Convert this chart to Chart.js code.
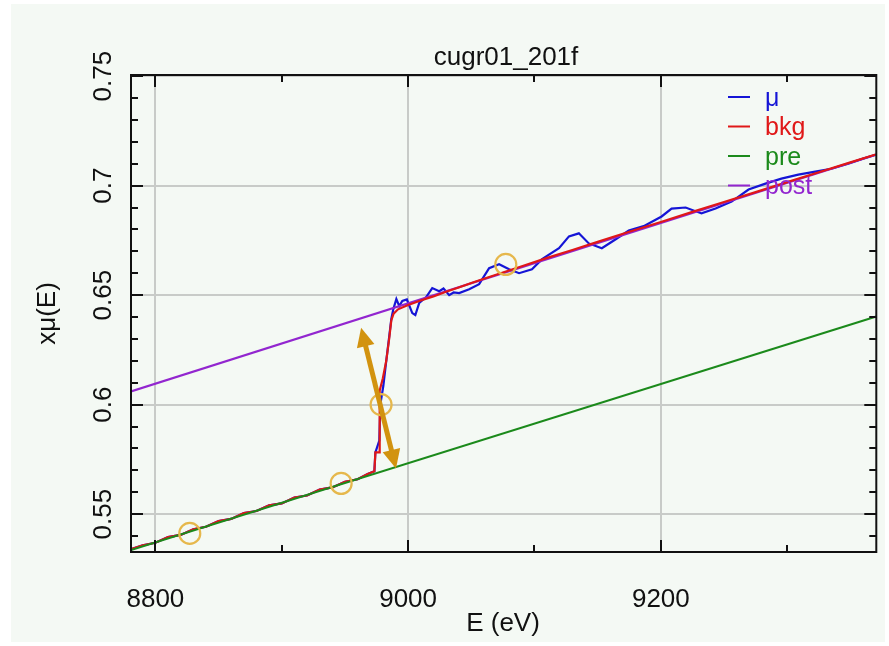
<!DOCTYPE html>
<html>
<head>
<meta charset="utf-8">
<title>cugr01_201f</title>
<script src="https://cdn.jsdelivr.net/npm/chart.js@4.4.1/dist/chart.umd.min.js"></script>
<style>
  html, body { margin: 0; padding: 0; background: #ffffff; }
  #wrap { width: 889px; height: 646px; }
</style>
</head>
<body>
<div id="wrap"><canvas id="xafs" width="889" height="646"></canvas></div>
<script>
// ================= DATA =================
const chartTitle = "cugr01_201f";
const xTitle = "E (eV)";
const yTitle = "xμ(E)";

// axis range and ticks
const xRange = [8780.7, 9370.5];
const yRange = [0.5327, 0.7505];
const xMajor = [8800, 9000, 9200];
const xMinor = [8900, 9100, 9300];
const yMajor = [0.55, 0.6, 0.65, 0.7, 0.75];
const yMinor = [0.54, 0.56, 0.57, 0.58, 0.59, 0.61, 0.62, 0.63, 0.64, 0.66, 0.67, 0.68, 0.69, 0.71, 0.72, 0.73, 0.74];

// measured mu(E)
const muE = [8781, 8790, 8800, 8810, 8820, 8830, 8840, 8850, 8860, 8870, 8880, 8890, 8900, 8910, 8920, 8930, 8940, 8950, 8960, 8968,
  8973.3, 8974.1, 8977.2, 8978, 8980.4, 8982.7, 8985.1, 8986.7, 8988.3, 8990.7, 8993, 8995.4, 8999, 9003.3, 9005.7, 9008.8,
  9014.3, 9019.1, 9024.6, 9028, 9032.5, 9036, 9040.4, 9048.3, 9056.2, 9064.1, 9072, 9079.9, 9087.8, 9098, 9106, 9119.4, 9127.3, 9135.1,
  9143, 9153.3, 9164.3, 9174.6, 9186.4, 9200.6, 9208.5, 9219.6, 9232.2, 9243.3, 9256, 9269.4, 9282.8, 9295.4, 9308.8, 9322.2,
  9334.9, 9348.3, 9360.1, 9369.6];
const muVal = [0.5340, 0.5358, 0.5369, 0.5395, 0.5405, 0.5431, 0.5442, 0.5468, 0.5478, 0.5505, 0.5514, 0.5540, 0.5549, 0.5576, 0.5585, 0.5612, 0.5622, 0.5648, 0.5659, 0.5683,
  0.5696, 0.5782, 0.5836, 0.6000, 0.6086, 0.6200, 0.6314, 0.6391, 0.6436, 0.6482, 0.6450, 0.6473, 0.6480, 0.6418, 0.6409, 0.6464,
  0.6491, 0.6532, 0.6518, 0.6530, 0.6500, 0.6512, 0.6509, 0.6527, 0.6550, 0.6623, 0.6641, 0.6618, 0.6600, 0.6618, 0.6664, 0.6714, 0.6768, 0.6782,
  0.6736, 0.6714, 0.6755, 0.6795, 0.6815, 0.6859, 0.6895, 0.6900, 0.6873, 0.6895, 0.6927, 0.6982, 0.7009, 0.7032, 0.7050, 0.7064,
  0.7077, 0.7100, 0.7123, 0.7140];

// background spline
const bkgE = [8781, 8790, 8800, 8810, 8820, 8830, 8840, 8850, 8860, 8870, 8880, 8890, 8900, 8910, 8920, 8930, 8940, 8950, 8960, 8968,
  8973.3, 8974.1, 8977.0, 8977.5, 8980, 8982.7, 8985, 8986.7, 8988.5, 8992, 9000, 9010, 9020, 9030, 9040, 9050, 9060, 9075,
  9090, 9110, 9130, 9150, 9175, 9200, 9225, 9250, 9275, 9300, 9325, 9350, 9370];
const bkgVal = [0.5340, 0.5358, 0.5369, 0.5395, 0.5405, 0.5431, 0.5442, 0.5468, 0.5478, 0.5505, 0.5514, 0.5540, 0.5549, 0.5576, 0.5585, 0.5612, 0.5622, 0.5648, 0.5659, 0.5683,
  0.5696, 0.5782, 0.5782, 0.6064, 0.6120, 0.6200, 0.6300, 0.6385, 0.6415, 0.6435, 0.6455, 0.6475, 0.6494, 0.6515, 0.6535, 0.6555, 0.6575, 0.6603,
  0.6632, 0.6670, 0.6706, 0.6743, 0.6789, 0.6834, 0.6880, 0.6925, 0.6970, 0.7016, 0.7061, 0.7106, 0.7142];

// pre-edge and post-edge lines (end points)
const preE = [8780.7, 9370.5];
const preVal = [0.5336, 0.6402];
const postE = [8780.7, 9370.5];
const postVal = [0.6060, 0.7142];

// fit markers
const markE = [8827.2, 8947.0, 8978.6, 9077.3];
const markVal = [0.5412, 0.5640, 0.6000, 0.6640];

// edge-step arrow (from post line down to pre line)
const arrowE = [8962.8, 8990.4];
const arrowVal = [0.6351, 0.5708];

// ================= STYLE =================
const COLORS = { mu: "#1515d6", bkg: "#e01818", pre: "#1b8a1b", post: "#9226cf", mark: "#e6b84c", arrow: "#d2930f" };
const FONT = '"Liberation Sans", Arial, sans-serif';

function toPoints(xs, ys) {
  return xs.map((x, i) => ({ x: x, y: ys[i] }));
}

function lineSet(label, xs, ys, color, order) {
  return {
    label: label,
    data: toPoints(xs, ys),
    borderColor: color,
    backgroundColor: color,
    borderWidth: 2.2,
    pointRadius: 0,
    tension: 0,
    fill: false,
    order: order
  };
}

// ================= FRAME / TEXT PLUGIN =================
const framePlugin = {
  id: "frame",
  beforeDraw(chart) {
    const ctx = chart.ctx;
    ctx.save();
    ctx.fillStyle = "#ffffff";
    ctx.fillRect(0, 0, chart.width, chart.height);
    ctx.fillStyle = "#f4f9f4";
    ctx.fillRect(11, 4, chart.width - 15, chart.height - 8);
    ctx.restore();
  },
  afterDatasetsDraw(chart) {
    // arrow marking the edge step
    const ctx = chart.ctx;
    const xs = chart.scales.x, ys = chart.scales.y;
    const x1 = xs.getPixelForValue(arrowE[0]), y1 = ys.getPixelForValue(arrowVal[0]);
    const x2 = xs.getPixelForValue(arrowE[1]), y2 = ys.getPixelForValue(arrowVal[1]);
    const ang = Math.atan2(y2 - y1, x2 - x1);
    const head = 19, half = 9;
    ctx.save();
    ctx.strokeStyle = COLORS.arrow;
    ctx.fillStyle = COLORS.arrow;
    ctx.lineWidth = 5;
    ctx.beginPath();
    ctx.moveTo(x1 + Math.cos(ang) * head * 0.8, y1 + Math.sin(ang) * head * 0.8);
    ctx.lineTo(x2 - Math.cos(ang) * head * 0.8, y2 - Math.sin(ang) * head * 0.8);
    ctx.stroke();
    [[x1, y1, ang], [x2, y2, ang + Math.PI]].forEach(([tx, ty, a]) => {
      const bx = tx + Math.cos(a) * head, by = ty + Math.sin(a) * head;
      ctx.beginPath();
      ctx.moveTo(tx, ty);
      ctx.lineTo(bx - Math.sin(a) * half, by + Math.cos(a) * half);
      ctx.lineTo(bx + Math.sin(a) * half, by - Math.cos(a) * half);
      ctx.closePath();
      ctx.fill();
    });
    ctx.restore();
  },
  afterDraw(chart) {
    const ctx = chart.ctx;
    const a = chart.chartArea;
    const xs = chart.scales.x, ys = chart.scales.y;
    ctx.save();

    // box
    ctx.strokeStyle = "#111111";
    ctx.lineWidth = 2;
    ctx.strokeRect(a.left, a.top, a.right - a.left, a.bottom - a.top);

    // inward ticks on all four sides
    ctx.lineWidth = 2;
    ctx.beginPath();
    const xt = (v, len) => {
      const px = Math.round(xs.getPixelForValue(v));
      ctx.moveTo(px, a.bottom); ctx.lineTo(px, a.bottom - len);
      ctx.moveTo(px, a.top); ctx.lineTo(px, a.top + len);
    };
    const yt = (v, len) => {
      const py = Math.round(ys.getPixelForValue(v));
      ctx.moveTo(a.left, py); ctx.lineTo(a.left + len, py);
      ctx.moveTo(a.right, py); ctx.lineTo(a.right - len, py);
    };
    xMajor.forEach(v => xt(v, 12));
    xMinor.forEach(v => xt(v, 7));
    yMajor.forEach(v => yt(v, 12));
    yMinor.forEach(v => yt(v, 7));
    ctx.stroke();

    // tick labels
    ctx.fillStyle = "#111111";
    ctx.font = "26px " + FONT;
    ctx.textAlign = "center";
    ctx.textBaseline = "middle";
    xMajor.forEach(v => ctx.fillText(String(v), xs.getPixelForValue(v), 600));
    yMajor.forEach(v => {
      ctx.save();
      ctx.translate(104, ys.getPixelForValue(v));
      ctx.rotate(-Math.PI / 2);
      ctx.fillText(String(v), 0, 0);
      ctx.restore();
    });

    // titles
    ctx.fillText(chartTitle, 506, 58);
    ctx.fillText(xTitle, 503, 624);
    ctx.save();
    ctx.translate(48, (a.top + a.bottom) / 2);
    ctx.rotate(-Math.PI / 2);
    ctx.fillText(yTitle, 0, 0);
    ctx.restore();

    // legend, top right inside the box
    ctx.font = "25px " + FONT;
    ctx.textAlign = "left";
    const rows = chart.data.datasets.filter(d => d.showInLegend);
    rows.forEach((d, i) => {
      const y = 97 + i * 29.5;
      ctx.strokeStyle = d.borderColor;
      ctx.lineWidth = 2;
      ctx.beginPath();
      ctx.moveTo(728, y); ctx.lineTo(750, y);
      ctx.stroke();
      ctx.fillStyle = d.borderColor;
      ctx.fillText(d.label, 765, y + 2);
    });

    ctx.restore();
  }
};

// ================= CHART =================
function renderChart() {
  const mu = lineSet("μ", muE, muVal, COLORS.mu, 5);
  const bkg = lineSet("bkg", bkgE, bkgVal, COLORS.bkg, 3);
  const pre = lineSet("pre", preE, preVal, COLORS.pre, 2);
  const post = lineSet("post", postE, postVal, COLORS.post, 4);
  [mu, bkg, pre, post].forEach(d => { d.showInLegend = true; });

  const marks = {
    label: "marks",
    type: "scatter",
    data: toPoints(markE, markVal),
    pointStyle: "circle",
    pointRadius: 10.5,
    borderColor: COLORS.mark,
    backgroundColor: "rgba(0,0,0,0)",
    pointBorderWidth: 2.2,
    showLine: false,
    order: 1
  };

  const fixTicks = list => scale => { scale.ticks = list.map(v => ({ value: v })); };

  new Chart(document.getElementById("xafs"), {
    type: "line",
    data: { datasets: [mu, bkg, pre, post, marks] },
    options: {
      responsive: false,
      animation: false,
      layout: { padding: { left: 131, top: 75, right: 11, bottom: 94 } },
      plugins: { legend: { display: false }, tooltip: { enabled: false }, title: { display: false } },
      scales: {
        x: {
          type: "linear",
          min: xRange[0], max: xRange[1],
          afterBuildTicks: fixTicks(xMajor),
          afterFit: s => { s.height = 0; },
          ticks: { display: false },
          border: { display: false },
          grid: { color: "#c8cbc8", lineWidth: 2, drawTicks: false }
        },
        y: {
          type: "linear",
          min: yRange[0], max: yRange[1],
          afterBuildTicks: fixTicks(yMajor),
          afterFit: s => { s.width = 0; },
          ticks: { display: false },
          border: { display: false },
          grid: { color: "#c8cbc8", lineWidth: 2, drawTicks: false }
        }
      }
    },
    plugins: [framePlugin]
  });
}

// ================= INIT =================
document.addEventListener("DOMContentLoaded", renderChart);
</script>
</body>
</html>
